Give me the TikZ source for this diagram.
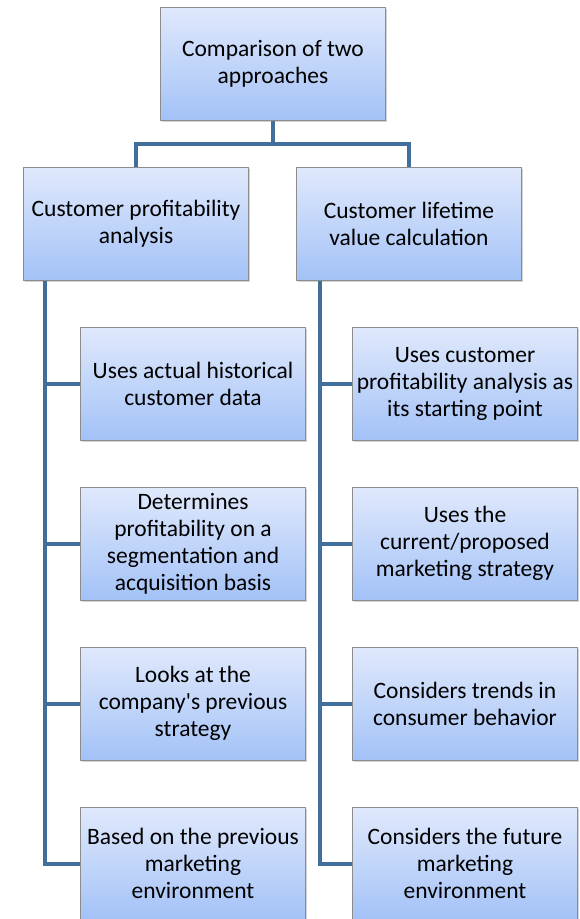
\documentclass[tikz,border=0pt]{standalone}
\usepackage{fontspec}
\setmainfont{Carlito}[Ligatures=TeXOff]
\usetikzlibrary{shadows}

\definecolor{boxtop}{RGB}{224,233,252}
\definecolor{boxbottom}{RGB}{163,194,247}
\definecolor{boxline}{RGB}{140,140,140}
\definecolor{linkblue}{RGB}{65,110,155}

\begin{document}
\begin{tikzpicture}
[every node/.style={inner sep=0pt},
 card/.style={rectangle, minimum width=225pt, minimum height=113pt, top color=boxtop, bottom color=boxbottom, draw=boxline, line width=1pt, align=center, font=\fontsize{23.5}{27}\selectfont, drop shadow={shadow xshift=1.5pt, shadow yshift=-1.5pt, opacity=0.35}},
 link/.style={line width=4pt, color=linkblue}]
\useasboundingbox (0pt, 0pt) rectangle (580pt, -919pt);
\node (top) [card] at (273pt, -63.5pt) {Comparison of two\\approaches};
\node (cpa) [card] at (136pt, -223.5pt) {Customer profitability\\analysis};
\node (clv) [card] at (409pt, -223.5pt) {Customer lifetime\\value calculation};
\node (cpa1) [card] at (193pt, -383.5pt) {Uses actual historical\\customer data};
\node (cpa2) [card] at (193pt, -543.5pt) {Determines\\profitability on a\\segmentation and\\acquisition basis};
\node (cpa3) [card] at (193pt, -703.5pt) {Looks at the\\company's previous\\strategy};
\node (cpa4) [card] at (193pt, -863.5pt) {Based on the previous\\marketing\\environment};
\node (clv1) [card] at (465pt, -383.5pt) {Uses customer\\profitability analysis as\\its starting point};
\node (clv2) [card] at (465pt, -543.5pt) {Uses the\\current/proposed\\marketing strategy};
\node (clv3) [card] at (465pt, -703.5pt) {Considers trends in\\consumer behavior};
\node (clv4) [card] at (465pt, -863.5pt) {Considers the future\\marketing\\environment};
\draw [link] (top.south) -- ++(0pt, -23pt) -| (cpa.north);
\draw [link] (top.south) -- ++(0pt, -23pt) -| (clv.north);
\foreach \n in {cpa1, cpa2, cpa3, cpa4}
  \draw [link] ([xshift=22pt]cpa.south west) |- (\n.west);
\foreach \n in {clv1, clv2, clv3, clv4}
  \draw [link] ([xshift=24pt]clv.south west) |- (\n.west);
\end{tikzpicture}
\end{document}
